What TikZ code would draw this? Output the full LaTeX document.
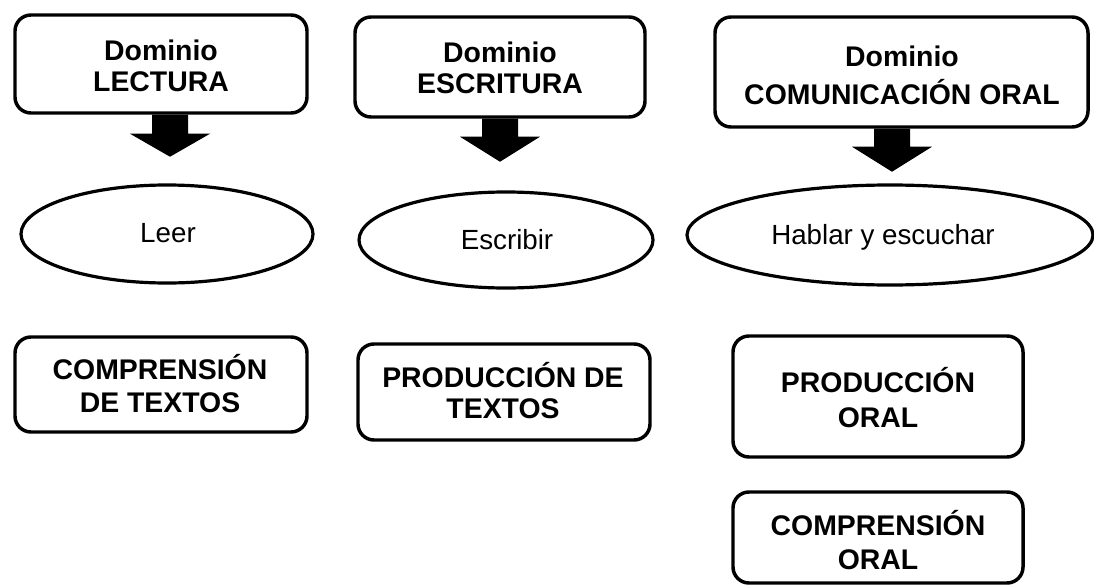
\documentclass[tikz,border=0pt]{standalone}
\usepackage{fontspec}
\setmainfont{Liberation Sans}
\usetikzlibrary{shapes.geometric,calc}
\tikzset{
  dombox/.style={draw, line width=2.6pt, rounded corners=12pt, inner sep=0pt, align=center},
  skillbox/.style={draw, line width=2.6pt, rounded corners=12pt, inner sep=0pt, align=center},
  actell/.style={draw, ellipse, line width=2.4pt, inner sep=0pt},
  blockarrow/.style={fill=black},
  txt/.style={inner sep=0pt, align=center}
}
\begin{document}
\begin{tikzpicture}[x=0.75pt,y=-0.75pt]
\useasboundingbox (0,0) rectangle (1094,585);
% domain boxes
\node[dombox, minimum width=292*0.75pt, minimum height=98*0.75pt] (d1) at (161,64) {};
\node[txt, font=\bfseries\fontsize{21.3}{23.25}\selectfont] (t1) at (161,66) {Dominio\\LECTURA};
\node[dombox, minimum width=290*0.75pt, minimum height=100*0.75pt] (d2) at (500,67) {};
\node[txt, font=\bfseries\fontsize{21.3}{23.25}\selectfont] (t2) at (500,68) {Dominio\\ESCRITURA};
\node[dombox, minimum width=373*0.75pt, minimum height=110*0.75pt] (d3) at (901.5,72) {};
\node[txt, font=\bfseries\fontsize{21.3}{28.5}\selectfont] (t3) at (902,75) {Dominio\\COMUNICACIÓN ORAL};
% block arrows
\fill[blockarrow] (d1.south -| 170,0) ++(-18,0) -- ++(0,19) -- ++(-22,0) -- ++(40,23) -- ++(40,-23) -- ++(-22,0) -- ++(0,-19) -- cycle;
\fill[blockarrow] (d2.south -| 500,0) ++(-18,0) -- ++(0,18) -- ++(-22,0) -- ++(40,25) -- ++(40,-25) -- ++(-22,0) -- ++(0,-18) -- cycle;
\fill[blockarrow] (d3.south -| 892,0) ++(-18,0) -- ++(0,18) -- ++(-22,0) -- ++(40,25) -- ++(40,-25) -- ++(-22,0) -- ++(0,-18) -- cycle;
% ellipses
\node[actell, minimum width=292*0.75pt, minimum height=98*0.75pt] (e1) at (167,234) {};
\node[txt, font=\fontsize{20.8}{24}\selectfont] (l1) at (168,233) {Leer};
\node[actell, minimum width=294*0.75pt, minimum height=96*0.75pt] (e2) at (506,240) {};
\node[txt, font=\fontsize{20.8}{24}\selectfont] (l2) at (507,240) {Escribir};
\node[actell, minimum width=406*0.75pt, minimum height=100*0.75pt] (e3) at (890,235) {};
\node[txt, font=\fontsize{20.8}{24}\selectfont] (l3) at (883,237) {Hablar y escuchar};
% skill boxes
\node[skillbox, minimum width=292*0.75pt, minimum height=95*0.75pt] (b1) at (161,384.5) {};
\node[txt, font=\bfseries\fontsize{21.3}{24.75}\selectfont] (s1) at (160,383.5) {COMPRENSIÓN\\DE TEXTOS};
\node[skillbox, minimum width=292*0.75pt, minimum height=96*0.75pt] (b2) at (504,392) {};
\node[txt, font=\bfseries\fontsize{21.3}{23.25}\selectfont] (s2) at (503,390.5) {PRODUCCIÓN DE\\TEXTOS};
\node[skillbox, minimum width=290*0.75pt, minimum height=121*0.75pt] (b3) at (878,396.5) {};
\node[txt, font=\bfseries\fontsize{21.3}{26.25}\selectfont] (s3) at (878,397.5) {PRODUCCIÓN\\ORAL};
\node[skillbox, minimum width=290*0.75pt, minimum height=91*0.75pt] (b4) at (878,537.5) {};
\node[txt, font=\bfseries\fontsize{21.3}{25.5}\selectfont] (s4) at (878,540) {COMPRENSIÓN\\ORAL};
\end{tikzpicture}
\end{document}
